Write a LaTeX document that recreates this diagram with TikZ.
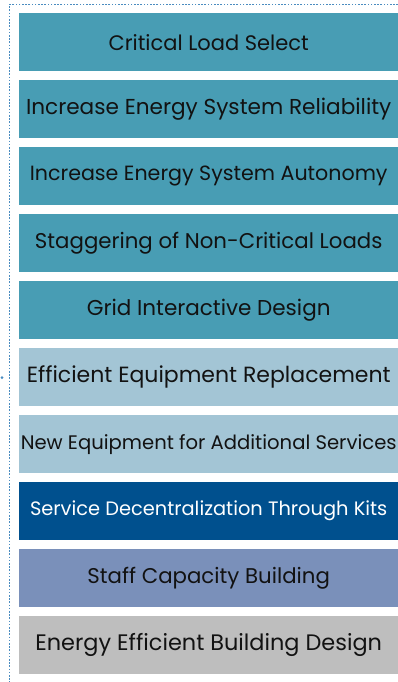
\documentclass[tikz,border=0pt]{standalone}
\usepackage{fontspec}
\setmainfont{Poppins}
\definecolor{teal1}{HTML}{489DB4}
\definecolor{lblue}{HTML}{A3C5D5}
\definecolor{dblue}{HTML}{00508E}
\definecolor{pblue}{HTML}{7A90BA}
\definecolor{gray1}{HTML}{BEBEBE}
\definecolor{dotc}{HTML}{4A8CC0}
\definecolor{txt}{HTML}{121212}
\tikzset{
  bar/.style={rectangle, minimum width=379pt, minimum height=58pt, inner sep=0pt, anchor=north west, text=txt, font=\fontsize{21.3}{24}\selectfont},
  fs/.style={font=\fontsize{#1}{24}\selectfont},
  border/.style={dotc, line width=1.2pt, dash pattern=on 1.6pt off 1.6pt}
}
\begin{document}
\begin{tikzpicture}[x=1pt,y=-1pt]
\useasboundingbox (0,0) rectangle (398,682);
\coordinate (tl) at (9.5,4.3);
\coordinate (tr) at (398,4.3);
\coordinate (bl) at (9.5,682);
\draw[border] (tr) -- (tl) -- (bl);
\fill[dotc] (2,377.5) circle (1.5pt);
\node[bar, fill=teal1, fs=21.0] (b1) at (19,13) {Critical Load Select};
\node[bar, fill=teal1, fs=21.6] (b2) at (19,80) {Increase Energy System Reliability};
\node[bar, fill=teal1, fs=20.6] (b3) at (19,147) {Increase Energy System Autonomy};
\node[bar, fill=teal1, fs=21.3] (b4) at (19,214) {Staggering of Non-Critical Loads};
\node[bar, fill=teal1, fs=21.5] (b5) at (19,281) {Grid Interactive Design};
\node[bar, fill=lblue, fs=22.0] (b6) at (19,348) {Efficient Equipment Replacement};
\node[bar, fill=lblue, fs=19.6] (b7) at (19,415) {New Equipment for Additional Services};
\node[bar, fill=dblue, text=white, fs=19.4] (b8) at (19,482) {Service Decentralization Through Kits};
\node[bar, fill=pblue, fs=21.3] (b9) at (19,549) {Staff Capacity Building};
\node[bar, fill=gray1, fs=22.4] (b10) at (19,616) {Energy Efficient Building Design};
\end{tikzpicture}
\end{document}
